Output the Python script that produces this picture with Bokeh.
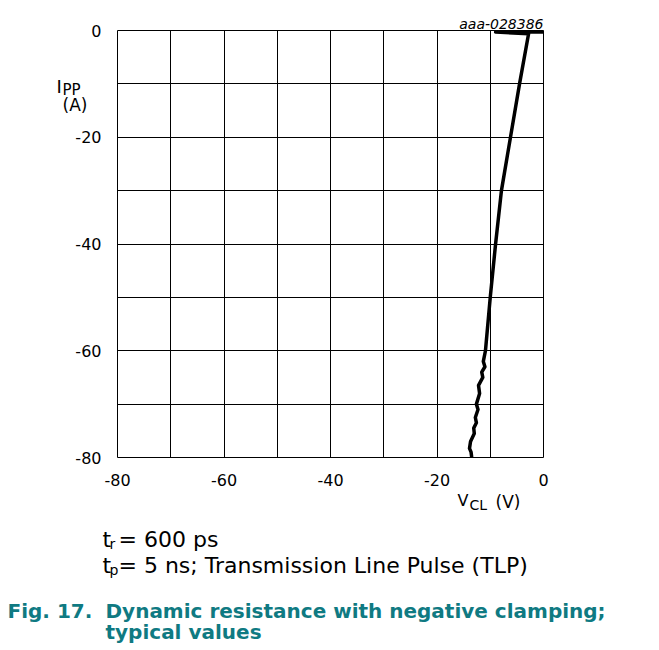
from bokeh.plotting import figure
from bokeh.models import Range1d, FixedTicker, Label, CustomJSTickFormatter
from bokeh.embed import file_html
from bokeh.resources import INLINE

# ---- data ----
v_cl = [0.0, -9.0, -2.8, -4.5, -6.2, -7.9, -9.0, -10.0, -10.9, -11.3, -11.0, -11.6,
        -11.4, -12.2, -12.0, -12.6, -12.3, -12.8, -12.6, -13.1, -13.0, -13.7, -13.9,
        -13.6, -13.5]
i_pp = [-0.3, -0.3, -0.6, -10.0, -20.0, -30.0, -40.0, -50.0, -60.0, -62.0, -63.0, -64.0,
        -65.0, -66.5, -68.0, -70.0, -71.0, -72.5, -73.5, -74.5, -75.5, -77.0, -78.3,
        -79.0, -79.8]
x_ticks = [-80, -60, -40, -20, 0]
y_ticks = [-80, -60, -40, -20, 0]
grid_ticks = [-80, -70, -60, -50, -40, -30, -20, -10, 0]

FONT = "DejaVu Sans"
TEAL = "#0f7a82"

W, H = 659, 650
FL, FR, FT, FB = 117, 543, 30, 457   # frame edges in page pixels

p = figure(width=W, height=H, output_backend="svg", toolbar_location=None,
           x_range=Range1d(-80, 0), y_range=Range1d(-80, 0),
           min_border_left=FL, min_border_right=W - FR,
           min_border_top=FT, min_border_bottom=H - FB)
p.background_fill_color = "white"
p.border_fill_color = "white"
p.outline_line_color = "black"
p.outline_line_width = 1

fmt = CustomJSTickFormatter(code="return tick.toFixed(0);")
for ax, ticks in ((p.xaxis, x_ticks), (p.yaxis, y_ticks)):
    ax.ticker = FixedTicker(ticks=ticks)
    ax.formatter = fmt
    ax.axis_line_color = None
    ax.major_tick_line_color = None
    ax.minor_tick_line_color = None
    ax.major_label_text_font = FONT
    ax.major_label_text_font_size = "16px"
    ax.major_label_text_color = "black"
p.xaxis.major_label_standoff = 10
p.yaxis.major_label_standoff = 10

p.xgrid.ticker = FixedTicker(ticks=grid_ticks)
p.ygrid.ticker = FixedTicker(ticks=grid_ticks)
for g in (p.xgrid, p.ygrid):
    g.grid_line_color = "black"
    g.grid_line_alpha = 1.0
    g.grid_line_width = 1

p.line(v_cl, i_pp, line_color="black", line_width=3.5, line_join="round", line_cap="round")

# page pixel -> data coordinates (frame spans page x 117..543, y 30..457)
SX = (FR - FL) / 80.0
SY = (FB - FT) / 80.0

def dx(X):
    return (X - FL) / SX - 80

def dy(Y):
    return -(Y - FT) / SY

def lab(text, X, Y, size, place, style="normal", color="black", align="left"):
    p.add_layout(Label(x=dx(X), y=dy(Y), text=text, text_font=FONT,
                       text_font_size=f"{size}px", text_font_style=style,
                       text_color=color, text_align=align,
                       text_baseline="alphabetic"), place)

lab("aaa-028386", 543, 23, 14, "above", style="italic", align="right")
# y-axis title
lab("I", 56, 86, 18, "left")
lab("PP", 62, 89, 15, "left")
lab("(A)", 62, 104, 17, "left")
# x-axis title
lab("V", 457, 500, 16, "right")
lab("CL", 469, 504, 14, "right")
lab("(V)", 495, 501, 17, "right")
# conditions
lab("t", 102, 539, 22, "right")
lab("r", 109, 543, 14, "right")
lab("= 600 ps", 118, 539, 22, "below")
lab("t", 102, 565, 22, "right")
lab("p", 109, 569, 14, "right")
lab("= 5 ns; Transmission Line Pulse (TLP)", 118, 565, 22, "below")
# caption
lab("Fig. 17.", 7, 610, 20, "below", style="bold", color=TEAL)
lab("Dynamic resistance with negative clamping;", 105, 610, 20, "below", style="bold", color=TEAL)
lab("typical values", 105, 631, 20, "below", style="bold", color=TEAL)

open("out.html", "w").write(file_html(p, INLINE))
